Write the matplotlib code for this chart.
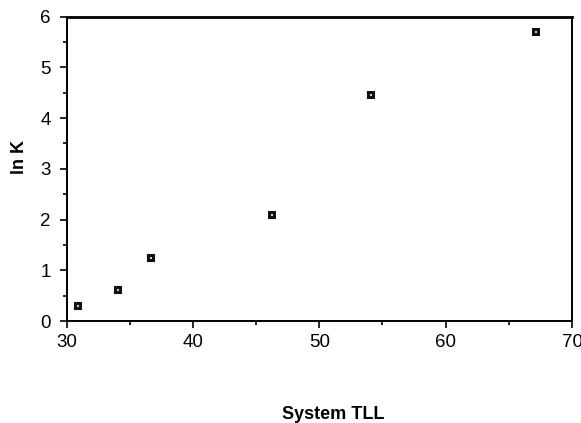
import matplotlib
matplotlib.use("Agg")
import matplotlib.pyplot as plt
from matplotlib.ticker import MultipleLocator

# data
tll = [30.8, 34.0, 36.6, 46.2, 54.0, 67.1]
ln_k = [0.31, 0.63, 1.26, 2.10, 4.48, 5.71]

plt.rcParams['font.family'] = ['Liberation Sans', 'DejaVu Sans']

fig = plt.figure(figsize=(5.81, 4.23), dpi=100)
ax = fig.add_axes([66.5 / 581, 1 - 321 / 423, (572 - 66.5) / 581, (321 - 16.7) / 423])

# small black squares with a tiny light centre
ax.plot(tll, ln_k, linestyle='none', marker='s', markersize=3.6,
        markerfacecolor='#dddddd', markeredgecolor='#111111', markeredgewidth=2.2)

ax.set_xlim(30, 70)
ax.set_ylim(0, 6)
ax.xaxis.set_major_locator(MultipleLocator(10))
ax.xaxis.set_minor_locator(MultipleLocator(5))
ax.yaxis.set_major_locator(MultipleLocator(1))
ax.yaxis.set_minor_locator(MultipleLocator(0.5))

for s in ax.spines.values():
    s.set_linewidth(1.4)
ax.spines['top'].set_linewidth(2)

ax.tick_params(which='major', direction='out', length=5, width=1.2, labelsize=13.5)
ax.tick_params(axis='y', which='major', pad=6.5)
ax.tick_params(axis='x', which='major', pad=4.5)
ax.tick_params(which='minor', direction='out', length=3, width=1.2)

fig.text(19 / 581, 1 - 157 / 423, 'ln K', rotation=90, fontsize=13,
         fontweight='bold', ha='center', va='center')
fig.text(333 / 581, 1 - 414 / 423, 'System TLL', fontsize=13,
         fontweight='bold', ha='center', va='center')

fig.savefig('out.png', dpi=100)
plt.close(fig)
